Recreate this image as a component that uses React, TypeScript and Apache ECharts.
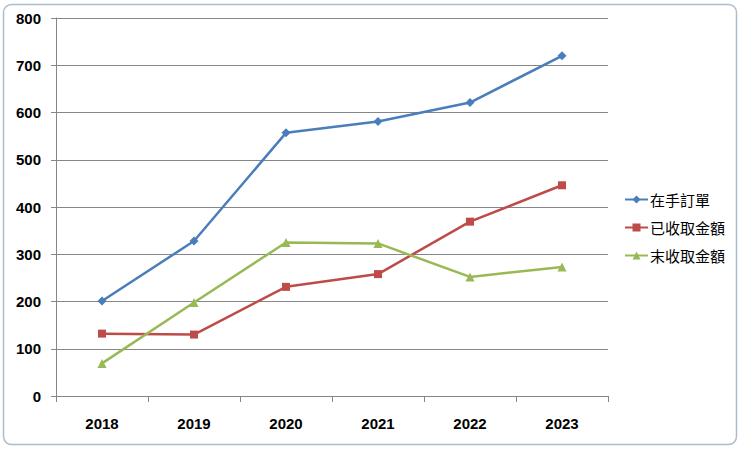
import React, { useEffect, useRef } from "react";
import * as echarts from "echarts";

const years = ["2018", "2019", "2020", "2021", "2022", "2023"];
const orders = [201, 328, 557, 581, 621, 720];
const received = [132, 130, 231, 258, 369, 446];
const unreceived = [69, 198, 325, 323, 252, 273];
const seriesNames = ["在手訂單", "已收取金額", "末收取金額"];

export default function App() {
  const ref = useRef<HTMLDivElement>(null);
  useEffect(() => {
    const chart = echarts.init(ref.current!, null, { renderer: "svg" });
    const fontFamily = "'Liberation Sans', Arial, sans-serif";
    chart.setOption({
      animation: false,
      backgroundColor: "#ffffff",
      graphic: [
        {
          type: "rect",
          shape: { x: 3.5, y: 4.5, width: 733, height: 440, r: 8 },
          style: { fill: "none", stroke: "#a9bcd0", lineWidth: 1.5 },
          silent: true,
        },
      ],
      grid: { left: 56, right: 132, top: 18, bottom: 53 },
      xAxis: {
        type: "category",
        data: years,
        boundaryGap: true,
        axisLine: { lineStyle: { color: "#868686", width: 1 } },
        axisTick: { show: true, length: 6, alignWithLabel: false, lineStyle: { color: "#868686" } },
        axisLabel: { color: "#000", fontWeight: "bold", fontSize: 15, margin: 20, fontFamily },
      },
      yAxis: {
        type: "value",
        min: 0,
        max: 800,
        interval: 100,
        axisLine: { show: true, lineStyle: { color: "#868686", width: 1 } },
        axisTick: { show: true, length: 5, lineStyle: { color: "#868686" } },
        axisLabel: { color: "#000", fontWeight: "bold", fontSize: 15, margin: 15, fontFamily },
        splitLine: { lineStyle: { color: "#868686", width: 1 } },
      },
      legend: {
        orient: "vertical",
        left: 619,
        top: 191,
        padding: [0, 5, 5, 5],
        itemGap: 11,
        itemWidth: 23,
        itemHeight: 10,
        textStyle: { fontSize: 15, lineHeight: 17, color: "#000", fontFamily: "'Noto Sans CJK TC', sans-serif", padding: [0, 0, 0, -3] },
        data: seriesNames,
      },
      series: [
        {
          name: seriesNames[0],
          type: "line",
          data: orders,
          symbol: "diamond",
          symbolSize: 9,
          lineStyle: { color: "#4a7ebb", width: 2.5 },
          itemStyle: { color: "#4a7ebb" },
        },
        {
          name: seriesNames[1],
          type: "line",
          data: received,
          symbol: "rect",
          symbolSize: 8,
          lineStyle: { color: "#be4b48", width: 2.5 },
          itemStyle: { color: "#be4b48" },
        },
        {
          name: seriesNames[2],
          type: "line",
          data: unreceived,
          symbol: "triangle",
          symbolSize: 9,
          lineStyle: { color: "#98b954", width: 2.5 },
          itemStyle: { color: "#98b954" },
        },
      ],
    });
    return () => chart.dispose();
  }, []);
  return (
    <div
      ref={ref}
      style={{ position: "fixed", left: 0, top: 0, width: 740, height: 449 }}
    />
  );
}
